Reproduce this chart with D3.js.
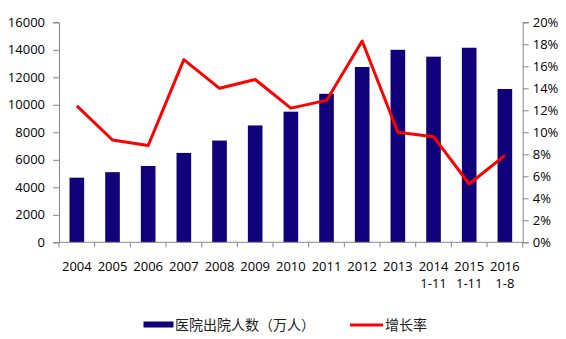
<!DOCTYPE html>
<html>
<head>
<meta charset="utf-8">
<script src="https://cdn.jsdelivr.net/npm/d3@7"></script>
<style>
  html, body { margin: 0; padding: 0; background: #fff; }
  svg { display: block; }
  .tick text { font-family: "Open Sans", "Liberation Sans", sans-serif; }
</style>
</head>
<body>
<svg id="chart" width="566" height="339"></svg>
<script>
// Hospital discharges (10k persons) and year-on-year growth, 2004 – 2016 (Jan–Aug)
const years = ["2004", "2005", "2006", "2007", "2008", "2009", "2010", "2011", "2012", "2013", "2014", "2015", "2016"];
const subLabels = ["", "", "", "", "", "", "", "", "", "", "1-11", "1-11", "1-8"];
const discharges = [4700, 5100, 5550, 6500, 7400, 8500, 9500, 10800, 12750, 14000, 13500, 14150, 11150];
const growth = [12.4, 9.3, 8.8, 16.6, 14.0, 14.8, 12.2, 12.9, 18.3, 10.0, 9.6, 5.3, 7.9];
const leftTicks = [0, 2000, 4000, 6000, 8000, 10000, 12000, 14000, 16000];
const rightTicks = [0, 2, 4, 6, 8, 10, 12, 14, 16, 18, 20];
const seriesNames = ["医院出院人数（万人）", "增长率"];

const barColor = "#10007a";
const lineColor = "#ff0000";
const axisColor = "#868686";

const svg = d3.select("#chart");
const plot = { left: 59, right: 522.7, top: 22.3, bottom: 242.3 };

const x = d3.scaleBand().domain(years).range([plot.left, plot.right]).paddingInner(0.59).paddingOuter(0.295);
const xGrid = d3.scaleBand().domain(years).range([plot.left, plot.right]).padding(0);
const yL = d3.scaleLinear().domain([0, 16000]).range([plot.bottom, plot.top]);
const yR = d3.scaleLinear().domain([0, 20]).range([plot.bottom, plot.top]);

// bars
svg.append("g").selectAll("rect").data(years).join("rect")
  .attr("x", d => x(d))
  .attr("width", x.bandwidth())
  .attr("y", (d, i) => yL(discharges[i]))
  .attr("height", (d, i) => plot.bottom - yL(discharges[i]))
  .attr("fill", barColor);

// left axis
const gL = svg.append("g").attr("transform", `translate(${plot.left},0)`)
  .call(d3.axisLeft(yL).tickValues(leftTicks).tickFormat(d3.format("d")).tickSize(6).tickPadding(8));
// right axis
const gR = svg.append("g").attr("transform", `translate(${plot.right},0)`)
  .call(d3.axisRight(yR).tickValues(rightTicks).tickFormat(d => d + "%").tickSize(6).tickPadding(4));

[gL, gR].forEach(g => {
  g.select(".domain").attr("stroke", axisColor);
  g.selectAll(".tick line").attr("stroke", axisColor);
  g.selectAll(".tick text").attr("fill", "#000").attr("font-size", 13);
});

// category axis: baseline with boundary ticks
const gX = svg.append("g");
gX.append("line")
  .attr("x1", plot.left).attr("x2", plot.right)
  .attr("y1", plot.bottom).attr("y2", plot.bottom)
  .attr("stroke", axisColor);
const bounds = years.map(d => xGrid(d)).concat([plot.right]);
gX.selectAll("line.b").data(bounds).join("line").attr("class", "b")
  .attr("x1", d => d).attr("x2", d => d)
  .attr("y1", plot.bottom).attr("y2", plot.bottom + 5)
  .attr("stroke", axisColor);

const labelFont = '"Open Sans", "Liberation Sans", sans-serif';
gX.selectAll("text.yr").data(years).join("text").attr("class", "yr")
  .attr("x", d => xGrid(d) + xGrid.bandwidth() / 2)
  .attr("y", 271)
  .attr("text-anchor", "middle")
  .attr("font-family", labelFont)
  .attr("font-size", 13)
  .attr("fill", "#000")
  .text(d => d);
gX.selectAll("text.sub").data(years).join("text").attr("class", "sub")
  .attr("x", d => xGrid(d) + xGrid.bandwidth() / 2)
  .attr("y", 288)
  .attr("text-anchor", "middle")
  .attr("font-family", labelFont)
  .attr("font-size", 13)
  .attr("fill", "#000")
  .text((d, i) => subLabels[i]);

// growth line
const line = d3.line()
  .x((d, i) => xGrid(years[i]) + xGrid.bandwidth() / 2)
  .y(d => yR(d));
svg.append("path").datum(growth)
  .attr("d", line)
  .attr("fill", "none")
  .attr("stroke", lineColor)
  .attr("stroke-width", 3)
  .attr("stroke-linejoin", "round");

// legend
const cjk = '"Noto Sans CJK SC", sans-serif';
const lg = svg.append("g");
lg.append("rect").attr("x", 143.5).attr("y", 321.5).attr("width", 30).attr("height", 6).attr("fill", barColor);
lg.append("text").attr("x", 175).attr("y", 330).attr("font-family", cjk).attr("font-size", 14)
  .attr("fill", "#222").text(seriesNames[0]);
lg.append("line").attr("x1", 350).attr("x2", 383).attr("y1", 325).attr("y2", 325)
  .attr("stroke", lineColor).attr("stroke-width", 3);
lg.append("text").attr("x", 385).attr("y", 330).attr("font-family", cjk).attr("font-size", 14)
  .attr("fill", "#222").text(seriesNames[1]);
</script>
</body>
</html>
